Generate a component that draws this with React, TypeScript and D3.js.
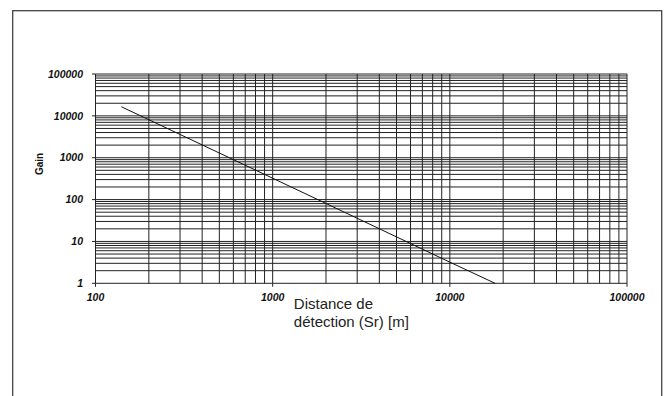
import React from "react";
import * as d3 from "d3";

const xTicks = [100, 1000, 10000, 100000];
const yTicks = [1, 10, 100, 1000, 10000, 100000];
const xTickLabels = ["100", "1000", "10000", "100000"];
const yTickLabels = ["1", "10", "100", "1000", "10000", "100000"];
const distance = [140, 1000, 10000, 18000];
const gain = [16500, 324, 3.2, 1];
const yTitle = "Gain";
const xTitle = ["Distance de", "détection (Sr) [m]"];

const W = 671;
const H = 396;

function minorGrid(domainMin: number, domainMax: number): number[] {
  const out: number[] = [];
  for (let d = domainMin; d < domainMax; d *= 10) {
    for (let k = 1; k <= 9; k++) out.push(d * k);
  }
  out.push(domainMax);
  return out;
}

export default function App() {
  const x = d3.scaleLog().domain([100, 100000]).range([95.5, 627]);
  const y = d3.scaleLog().domain([1, 100000]).range([283.3, 74]);
  const xs = minorGrid(100, 100000);
  const ys = minorGrid(1, 100000);
  const pts: [number, number][] = distance.map((d, i) => [d, gain[i]]);
  const line = d3
    .line<[number, number]>()
    .x((p) => x(p[0]))
    .y((p) => y(p[1]));
  const font = "'Liberation Sans', Arial, Helvetica, sans-serif";
  const [x0, x1] = x.range();
  const [y0, y1] = y.range();

  return (
    <svg
      width={W}
      height={H}
      style={{ position: "absolute", left: 0, top: 0, background: "#fff" }}
    >
      <rect x={12.7} y={10.7} width={649} height={400} fill="none" stroke="#444" strokeWidth={1.3} />
      {/* grid */}
      <g stroke="#222" strokeWidth={1}>
        {ys.map((v, i) => (
          <line key={"h" + i} x1={x0} x2={x1} y1={y(v)} y2={y(v)} />
        ))}
        {xs.map((v, i) => (
          <line key={"v" + i} x1={x(v)} x2={x(v)} y1={y1} y2={y0} />
        ))}
        {yTicks.map((v, i) => (
          <line key={"yt" + i} x1={x0 - 3.5} x2={x0} y1={y(v)} y2={y(v)} />
        ))}
        {xTicks.map((v, i) => (
          <line key={"xt" + i} x1={x(v)} x2={x(v)} y1={y0} y2={y0 + 3.5} />
        ))}
      </g>
      <path d={line(pts) || ""} fill="none" stroke="#111" strokeWidth={1} />
      {/* y tick labels */}
      <g fontFamily={font} fontSize={10.5} fontWeight="bold" fontStyle="italic" fill="#111">
        {yTicks.map((v, i) => (
          <text key={"yl" + i} x={83} y={y(v)} dy="0.35em" textAnchor="end">
            {yTickLabels[i]}
          </text>
        ))}
        {xTicks.map((v, i) => (
          <text key={"xl" + i} x={x(v)} y={301} textAnchor="middle">
            {xTickLabels[i]}
          </text>
        ))}
      </g>
      <text
        transform={`translate(43,164) rotate(-90)`}
        textAnchor="middle"
        fontFamily={font}
        fontSize={10}
        fontWeight="bold"
        fill="#111"
      >
        {yTitle}
      </text>
      <g fontFamily={font} fontSize={15} fill="#222">
        {xTitle.map((t, i) => (
          <text key={"xt" + i} x={293.8} y={309 + i * 18}>
            {t}
          </text>
        ))}
      </g>
    </svg>
  );
}
